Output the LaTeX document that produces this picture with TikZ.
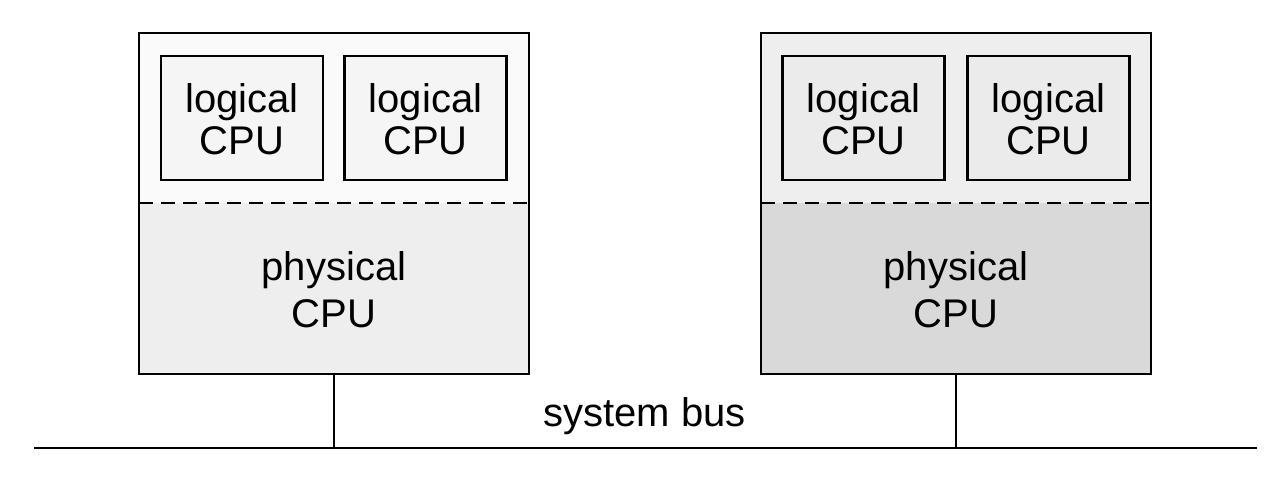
\documentclass[tikz,border=0pt]{standalone}
\usepackage{fontspec}
\setmainfont{Liberation Sans}
\begin{document}
\begin{tikzpicture}[x=1pt,y=-1pt,
  frame/.style={draw=black, line width=2.4pt, inner sep=0pt, minimum width=390pt, minimum height=341pt},
  lbox/.style={draw=black, line width=2.4pt, inner sep=0pt, minimum width=162pt, minimum height=124pt},
  lbl/.style={font=\fontsize{40}{44}\selectfont, inner sep=0pt, anchor=base},
  sep/.style={line width=2.2pt, dash pattern=on 14pt off 8pt},
  wire/.style={line width=2pt}]
\useasboundingbox (0,0) rectangle (1280,494);
% shading of the physical CPUs
\fill[gray!4]  (139,33) rectangle (529,203);
\fill[gray!13] (139,203) rectangle (529,374);
\fill[gray!13] (761,33) rectangle (1151,203);
\fill[gray!30] (761,203) rectangle (1151,374);
% physical CPU frames
\node[frame] (P1) at (334,203.5) {};
\node[frame] (P2) at (956,203.5) {};
% dashed separators
\coordinate (d1a) at (139,203); \coordinate (d1b) at (529,203);
\coordinate (d2a) at (761,203); \coordinate (d2b) at (1151,203);
\draw[sep] (d1a) -- (d1b);
\draw[sep] (d2a) -- (d2b);
% logical CPUs
\node[lbox, fill=gray!8]  (L1) at (242,118) {};
\node[lbox, fill=gray!8]  (L2) at (425.5,118) {};
\node[lbox, fill=gray!16] (L3) at (863.5,118) {};
\node[lbox, fill=gray!16] (L4) at (1048.5,118) {};
\node[lbl] (L1a) at (242,113) {logical};
\node[lbl] (L1b) at (242,155) {CPU};
\node[lbl] (L2a) at (425.5,113) {logical};
\node[lbl] (L2b) at (425.5,155) {CPU};
\node[lbl] (L3a) at (863.5,113) {logical};
\node[lbl] (L3b) at (863.5,155) {CPU};
\node[lbl] (L4a) at (1048.5,113) {logical};
\node[lbl] (L4b) at (1048.5,155) {CPU};
% physical labels
\node[lbl] (P1a) at (334,281) {physical};
\node[lbl] (P1b) at (334,327) {CPU};
\node[lbl] (P2a) at (956,281) {physical};
\node[lbl] (P2b) at (956,327) {CPU};
% system bus
\coordinate (busL) at (34,448);
\coordinate (busR) at (1257,448);
\draw[wire] (busL) -- (busR);
\draw[wire] (P1.south) -- (P1.south |- busL);
\draw[wire] (P2.south) -- (P2.south |- busL);
\node[lbl] (bus) at (644.5,426) {system bus};
\end{tikzpicture}
\end{document}
